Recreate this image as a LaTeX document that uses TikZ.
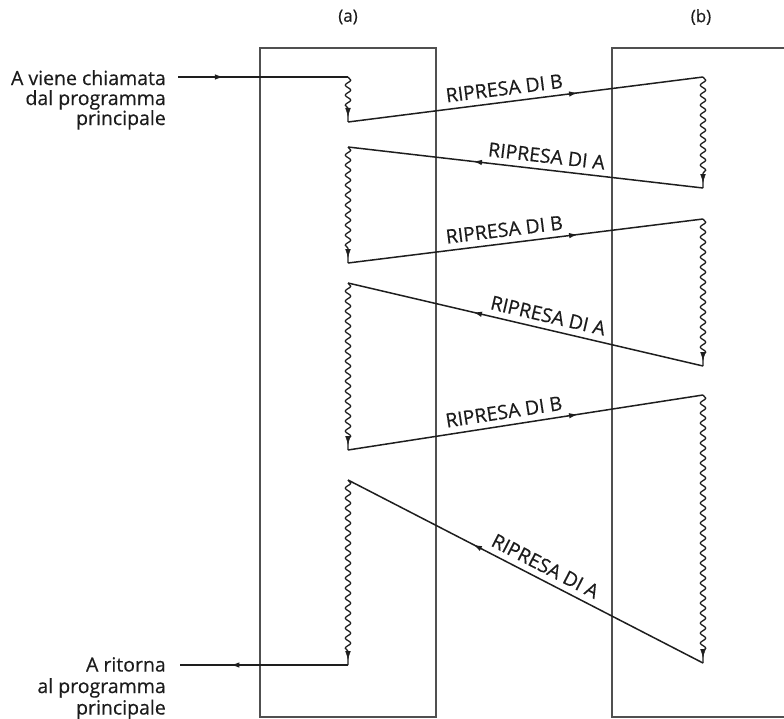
\documentclass[tikz,border=0pt]{standalone}
\usepackage{fontspec}
\setmainfont{Open Sans}[FakeBold=0.4]
\usetikzlibrary{decorations.pathmorphing,decorations.markings,arrows.meta}
\definecolor{ink}{HTML}{1E1E1E}
\definecolor{boxgray}{HTML}{505050}
\definecolor{txt}{HTML}{1C1C1C}
\begin{document}
\begin{tikzpicture}[x=1bp,y=-1bp,
  boxline/.style={draw=boxgray, line width=1.9bp},
  flow/.style={draw=ink, line width=1.5bp},
  wave/.style={draw=ink, line width=1.3bp, decorate,
    decoration={snake, amplitude=2.7bp, segment length=10bp, post length=10bp}},
  midarrow/.style={postaction={decorate, decoration={markings,
    mark=at position #1 with {\arrow{Latex[length=9bp,width=5.5bp]}}}}},
  endarrow/.style={postaction={decorate, decoration={markings,
    mark=at position -5bp with {\arrow[color=ink]{Latex[length=9bp,width=5.5bp]}}}}},
  lab/.style={sloped, above=4.5bp, inner sep=1.5bp, text=txt, font=\fontsize{19.5bp}{22bp}\selectfont},
  side/.style={anchor=north east, align=right, inner sep=0pt, text=txt},
  head/.style={text=txt, font=\fontsize{17bp}{19bp}\selectfont}
]
\useasboundingbox (0,0) rectangle (784,719);
\clip (0,0) rectangle (784,719);
% boxes
\draw[boxline] (260,48) rectangle (436,717);
\draw[boxline] (612,48) rectangle (800,717);
\node[head] (ha) at (348,17) {(a)};
\node[head] (hb) at (701,17) {(b)};
% coordinates
\coordinate (entry) at (178,77);
\coordinate (exit) at (180,665);
\coordinate (L1t) at (348,77);  \coordinate (L1b) at (348,122);
\coordinate (R1t) at (703,77);  \coordinate (R1b) at (703,188);
\coordinate (L2t) at (348,147); \coordinate (L2b) at (348,263);
\coordinate (R2t) at (703,219); \coordinate (R2b) at (703,366);
\coordinate (L3t) at (348,283); \coordinate (L3b) at (348,450);
\coordinate (R3t) at (703,395); \coordinate (R3b) at (703,663);
\coordinate (L4t) at (348,480); \coordinate (L4b) at (348,665);
% side texts
\node[side, font=\fontsize{19.5bp}{20bp}\selectfont] (call) at (166,70) {A viene chiamata\\dal programma\\principale};
\node[side, font=\fontsize{19.5bp}{21.5bp}\selectfont] (ret) at (166,657) {A ritorna\\al programma\\principale};
% entry and exit
\draw[flow, midarrow=0.27] (entry) -- (L1t);
\draw[flow, midarrow=0.70] (L4b) -- (exit);
% wavy executions
\foreach \a/\b in {L1t/L1b, R1t/R1b, L2t/L2b, R2t/R2b, L3t/L3b, R3t/R3b, L4t/L4b}{
  \draw[wave] (\a) -- (\b);
  \path[endarrow] (\a) -- (\b);
}
% transfers
\draw[flow, midarrow=0.648] (L1b) -- node[lab, pos=0.445] {RIPRESA DI B} (R1t);
\draw[flow, midarrow=0.648] (R1b) -- node[lab, pos=0.445] {RIPRESA DI A} (L2t);
\draw[flow, midarrow=0.648] (L2b) -- node[lab, pos=0.445] {RIPRESA DI B} (R2t);
\draw[flow, midarrow=0.648] (R2b) -- node[lab, pos=0.445] {RIPRESA DI A} (L3t);
\draw[flow, midarrow=0.648] (L3b) -- node[lab, pos=0.445] {RIPRESA DI B} (R3t);
\draw[flow, midarrow=0.648] (R3b) -- node[lab, pos=0.462] {RIPRESA DI A} (L4t);
\end{tikzpicture}
\end{document}
